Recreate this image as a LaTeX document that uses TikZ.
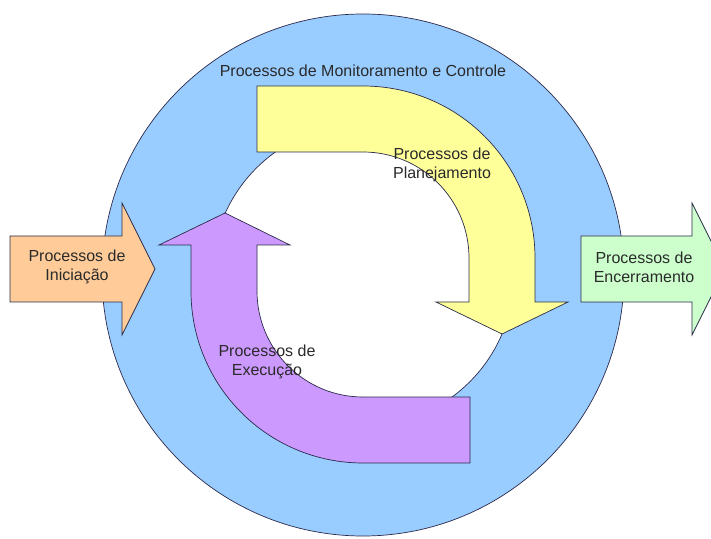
\documentclass[tikz,border=0pt]{standalone}
\usepackage{fontspec}
\setmainfont{Liberation Sans}

\definecolor{ringblue}{HTML}{99CCFF}
\definecolor{planyellow}{HTML}{FFFF99}
\definecolor{execpurple}{HTML}{CC99FF}
\definecolor{initorange}{HTML}{FFCC99}
\definecolor{closegreen}{HTML}{CCFFCC}
\definecolor{linec}{HTML}{2B2B4A}
\definecolor{textc}{HTML}{2A2A2A}

\begin{document}
\begin{tikzpicture}[
  x=1pt, y=1pt,
  edge/.style={draw=linec, line width=0.7pt, line join=miter},
  lbl/.style={font=\fontsize{16}{19}\selectfont, text=textc,
    align=center, inner sep=0pt}
]
  \clip (0,0) rectangle (711,538);
  \fill[white] (0,0) rectangle (711,538);
  \coordinate (ring) at (363,263);

  \draw[edge, fill=ringblue] (ring) circle[radius=261];
  \draw[edge, fill=white] (ring) circle[radius=151];

  \draw[edge, fill=planyellow] (257,452) -- (363,452)
    arc[start angle=90, end angle=0, radius=172] -- (535,236) -- (568,236)
    -- (502,204) -- (436,236) -- (469,236) -- (469,280)
    arc[start angle=0, end angle=90, radius=106] -- (257,386) -- cycle;
  \draw[edge, fill=execpurple] (225,325) -- (290,293) -- (257,293) -- (257,247)
    arc[start angle=180, end angle=270, radius=106] -- (470,141) -- (470,75)
    -- (363,75) arc[start angle=270, end angle=180, radius=172]
    -- (191,293) -- (159,293) -- cycle;

  \draw[edge, fill=initorange] (10,236) -- (122,236) -- (122,203) -- (155,269)
    -- (122,335) -- (122,302) -- (10,302) -- cycle;
  \draw[edge, fill=closegreen] (581,236) -- (692,236) -- (692,203) -- (725,269)
    -- (692,335) -- (692,302) -- (581,302) -- cycle;

  \node[lbl] (monitor) at (363,467) {Processos de Monitoramento e Controle};
  \node[lbl] (plan) at (442,373) {Processos de\\Planejamento};
  \node[lbl] (exec) at (267,176) {Processos de\\Execução};
  \node[lbl] (init) at (77,271) {Processos de\\Iniciação};
  \node[lbl] (close) at (644,271) {Processos de\\Encerramento};
\end{tikzpicture}
\end{document}
